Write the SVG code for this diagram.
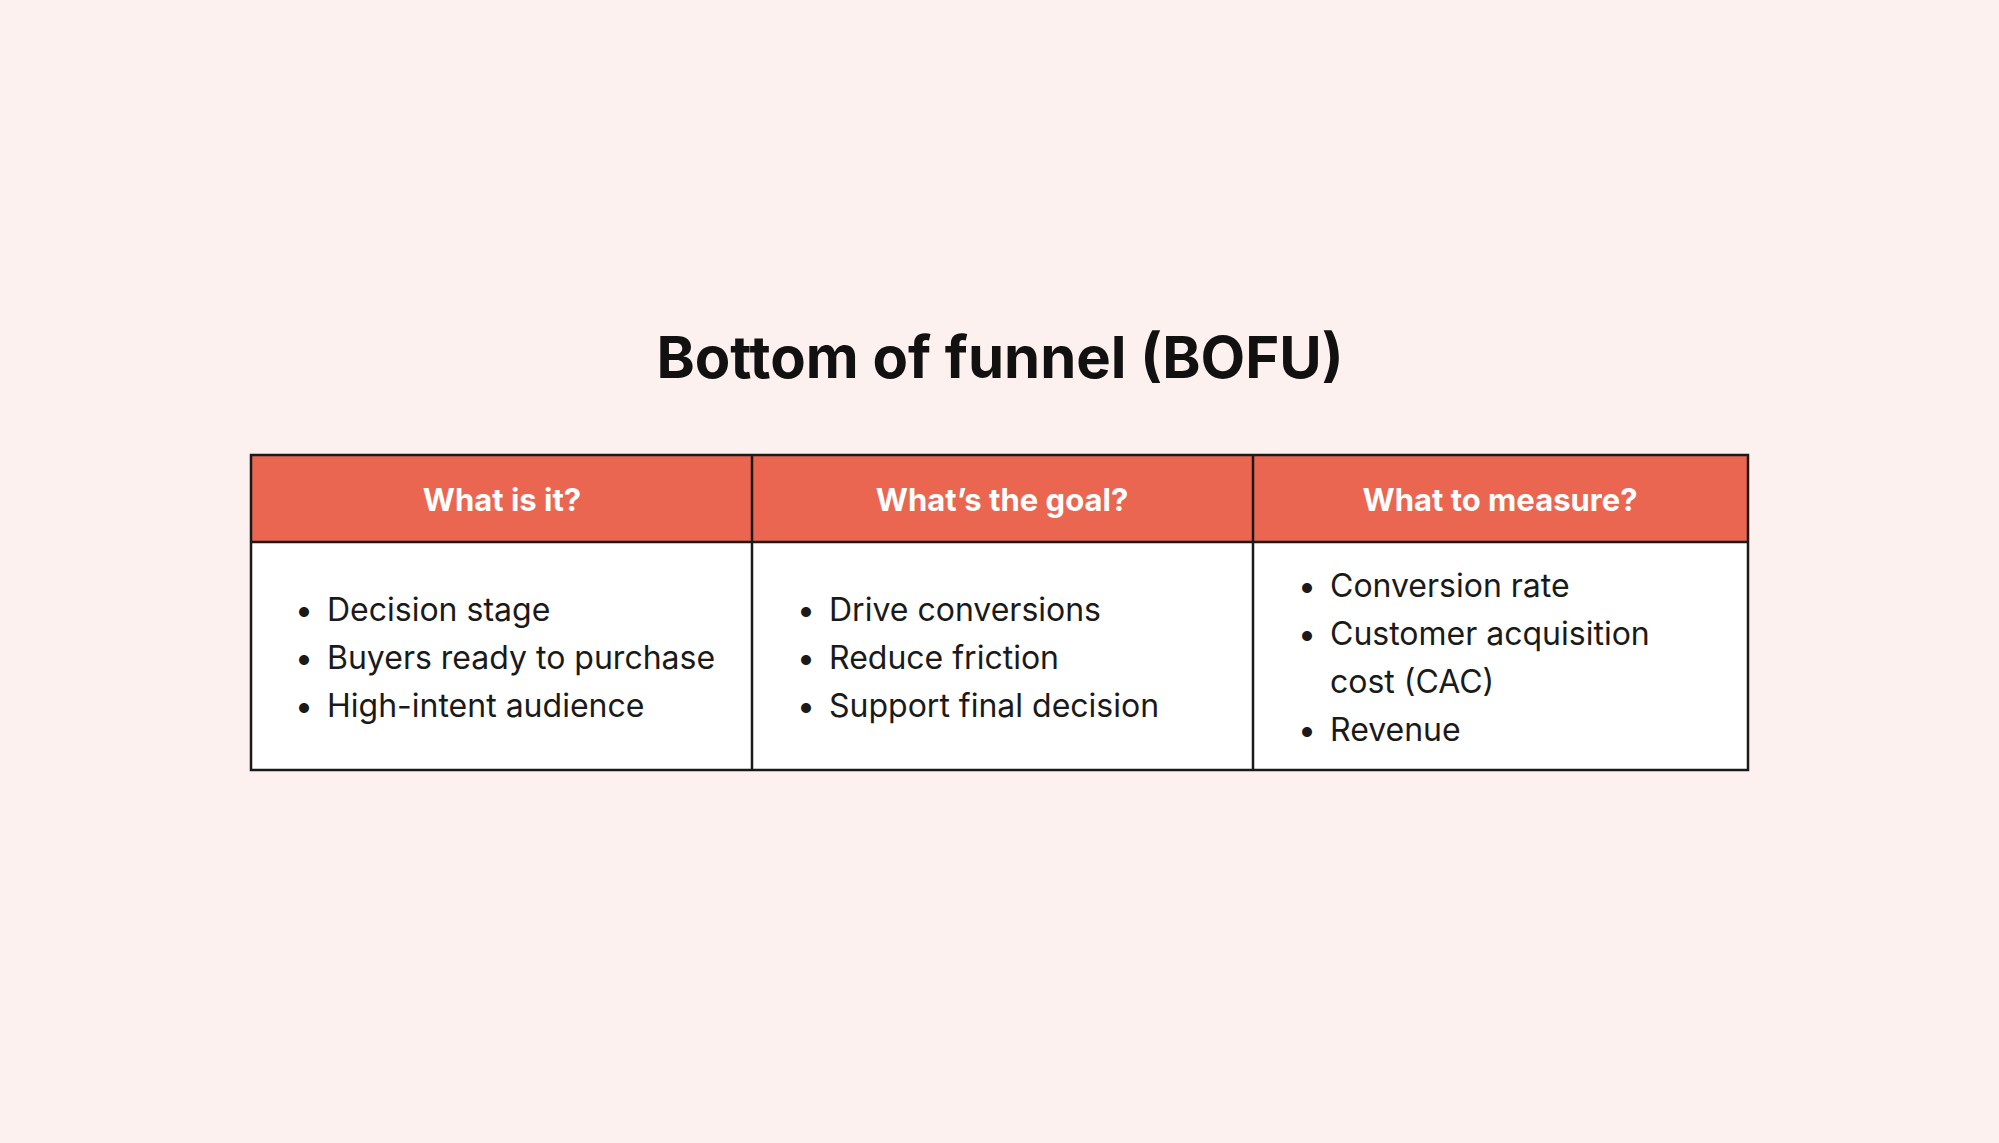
<svg xmlns="http://www.w3.org/2000/svg" width="1999" height="1143" viewBox="0 0 1999 1143">
<style>
.t{font-family:"Inter","Liberation Sans",sans-serif;fill:#111}
.h{font-family:"Inter","Liberation Sans",sans-serif;font-weight:700;font-size:31px;fill:#fff;text-anchor:middle}
.b{font-family:"Inter","Liberation Sans",sans-serif;font-size:32px;fill:#1a1a1a}
.ln{stroke:#1a1a1a;stroke-width:2.5;fill:none}
</style>
<rect width="1999" height="1143" fill="#FDF1EF"/>
<text class="t" x="1000" y="378" font-size="58" font-weight="700" text-anchor="middle">Bottom of funnel (BOFU)</text>
<g id="table">
<rect x="251" y="455" width="1497" height="87" fill="#EB6651"/>
<rect x="251" y="542" width="1497" height="228" fill="#FFFFFF"/>
<rect class="ln" x="251" y="455" width="1497" height="315"/>
<line class="ln" x1="251" y1="542" x2="1748" y2="542"/>
<line class="ln" x1="752" y1="455" x2="752" y2="770"/>
<line class="ln" x1="1253" y1="455" x2="1253" y2="770"/>
</g>
<g id="col1">
<text class="h" x="502" y="511">What is it?</text>
<text class="b" x="295" y="621">•<tspan x="327">Decision stage</tspan></text>
<text class="b" x="295" y="669">•<tspan x="327">Buyers ready to purchase</tspan></text>
<text class="b" x="295" y="717">•<tspan x="327">High-intent audience</tspan></text>
</g>
<g id="col2">
<text class="h" x="1002" y="511">What’s the goal?</text>
<text class="b" x="797" y="621">•<tspan x="829">Drive conversions</tspan></text>
<text class="b" x="797" y="669">•<tspan x="829">Reduce friction</tspan></text>
<text class="b" x="797" y="717">•<tspan x="829">Support final decision</tspan></text>
</g>
<g id="col3">
<text class="h" x="1500" y="511">What to measure?</text>
<text class="b" x="1298" y="597">•<tspan x="1330">Conversion rate</tspan></text>
<text class="b" x="1298" y="645">•<tspan x="1330">Customer acquisition</tspan></text>
<text class="b" x="1330" y="693">cost (CAC)</text>
<text class="b" x="1298" y="741">•<tspan x="1330">Revenue</tspan></text>
</g>
<g id="connectors"/>
</svg>
